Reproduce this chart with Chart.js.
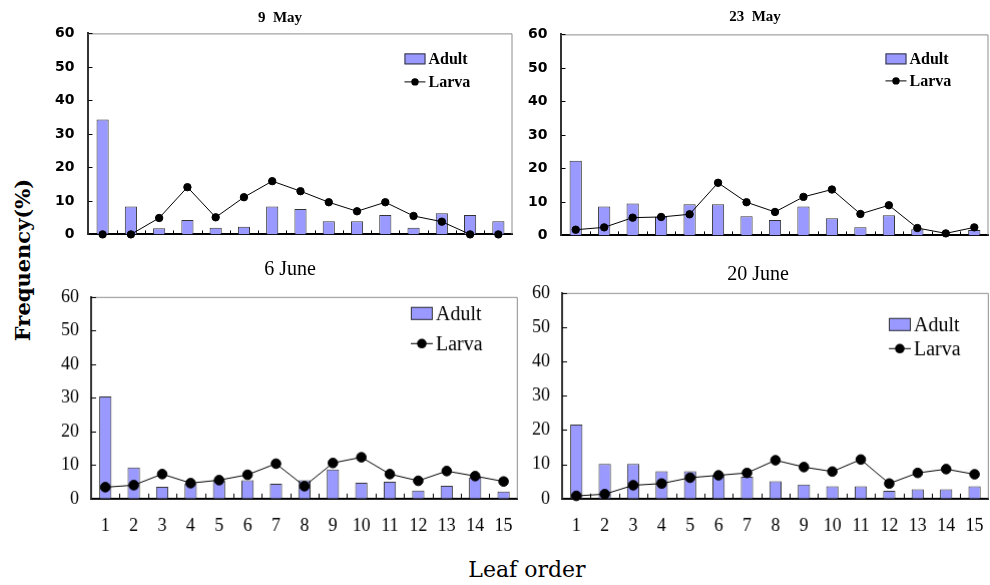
<!DOCTYPE html>
<html>
<head>
<meta charset="utf-8">
<script src="https://cdn.jsdelivr.net/npm/chart.js@4"></script>
<style>
  body { margin: 0; background: #fff; width: 990px; height: 585px; position: relative; overflow: hidden; }
  canvas { position: absolute; }
  .lbl { position: absolute; transform: translate(-50%, -50%); white-space: nowrap; color: #000; }
</style>
</head>
<body>
<canvas id="c1"></canvas>
<canvas id="c2"></canvas>
<canvas id="c3"></canvas>
<canvas id="c4"></canvas>

<div class="lbl" style="left:280px;top:17px;font:bold 15px 'Liberation Serif';">9&nbsp;&nbsp;May</div>
<div class="lbl" style="left:755px;top:16px;font:bold 15px 'Liberation Serif';">23&nbsp;&nbsp;May</div>
<div class="lbl" style="left:290px;top:268px;font:20px 'Liberation Serif';">6 June</div>
<div class="lbl" style="left:758px;top:273px;font:20px 'Liberation Serif';">20 June</div>
<div class="lbl" style="left:22px;top:260px;font:bold 21px 'DejaVu Serif';transform:translate(-50%,-50%) rotate(-90deg);">Frequency(%)</div>
<div class="lbl" style="left:527px;top:569px;font:22px 'DejaVu Serif';">Leaf order</div>

<script>
// --- data ---
const leafOrder = ["1","2","3","4","5","6","7","8","9","10","11","12","13","14","15"];

const adultMay9  = [34.3, 8.3, 1.8, 4.3, 2.0, 2.3, 8.3, 7.6, 3.9, 3.9, 5.8, 2.0, 6.3, 5.8, 3.9];
const larvaMay9  = [0, 0, 4.9, 14.1, 5.1, 11.1, 15.9, 12.9, 9.6, 6.9, 9.6, 5.5, 3.8, 0, 0];

const adultMay23 = [22.3, 8.6, 9.5, 5.6, 9.3, 9.3, 5.7, 4.6, 8.6, 5.1, 2.4, 6.0, 1.8, 0, 1.6];
const larvaMay23 = [1.7, 2.4, 5.3, 5.5, 6.3, 15.7, 9.9, 7.0, 11.5, 13.7, 6.4, 9.0, 2.2, 0.6, 2.4];

const adultJun6  = [30.4, 9.3, 3.5, 4.5, 5.5, 5.5, 4.4, 5.5, 8.7, 4.7, 5.0, 2.4, 3.8, 6.3, 2.1];
const larvaJun6  = [3.4, 4.0, 7.3, 4.6, 5.5, 7.1, 10.4, 3.7, 10.6, 12.3, 7.3, 5.3, 8.2, 6.7, 5.1];

const adultJun20 = [21.6, 10.1, 10.1, 8.0, 8.0, 6.9, 6.4, 5.1, 4.1, 3.6, 3.6, 2.3, 2.7, 2.7, 3.6];
const larvaJun20 = [0.8, 1.3, 3.9, 4.4, 6.1, 6.8, 7.5, 11.2, 9.2, 7.9, 11.4, 4.4, 7.5, 8.6, 7.1];

// frame, inner tick marks and the little legend
const framePlugin = {
  id: "frame",
  beforeDatasetsDraw(chart, args, o) {
    const { ctx, chartArea: a, scales: { x, y } } = chart;
    ctx.save();
    ctx.strokeStyle = "#8c8c8c";
    ctx.lineWidth = 1;
    ctx.beginPath();
    ctx.moveTo(a.left, a.top + 0.5);
    ctx.lineTo(a.right - 0.5, a.top + 0.5);
    ctx.lineTo(a.right - 0.5, a.bottom);
    ctx.stroke();

    ctx.strokeStyle = "#000";
    ctx.beginPath();
    y.ticks.forEach(t => {
      const py = Math.round(y.getPixelForValue(t.value)) + 0.5;
      ctx.moveTo(a.left, py);
      ctx.lineTo(a.left + o.tick, py);
    });
    for (let i = 0; i < leafOrder.length - 1; i++) {
      const px = Math.round((x.getPixelForValue(i) + x.getPixelForValue(i + 1)) / 2) + 0.5;
      ctx.moveTo(px, a.bottom);
      ctx.lineTo(px, a.bottom - o.tick);
    }
    ctx.stroke();
    ctx.restore();
  },
  afterDraw(chart, args, o) {
    const { ctx, chartArea: a } = chart;
    const bx = a.left + o.lx, by = a.top + o.ly;
    ctx.save();
    ctx.fillStyle = "#9999ff";
    ctx.strokeStyle = "#333";
    ctx.lineWidth = 1;
    ctx.fillRect(bx, by, o.boxW, o.boxH);
    ctx.strokeRect(bx + 0.5, by + 0.5, o.boxW - 1, o.boxH - 1);

    const ly = by + o.boxH / 2 + o.rowGap;
    ctx.strokeStyle = "#000";
    ctx.beginPath();
    ctx.moveTo(bx, ly);
    ctx.lineTo(bx + o.boxW, ly);
    ctx.stroke();
    ctx.fillStyle = "#000";
    ctx.beginPath();
    ctx.arc(bx + o.boxW / 2, ly, o.r, 0, Math.PI * 2);
    ctx.fill();

    ctx.font = o.font;
    ctx.textAlign = "left";
    ctx.textBaseline = "middle";
    ctx.fillText("Adult", bx + o.boxW + 3, by + o.boxH / 2 + 1);
    ctx.fillText("Larva", bx + o.boxW + 3, ly + 1);
    ctx.restore();
  }
};

function makePanel(id, area, adult, larva, p) {
  const cv = document.getElementById(id);
  cv.width = area.r - area.l + 60;
  cv.height = area.b - area.t + 60;

  const chart = new Chart(cv, {
    data: {
      labels: leafOrder,
      datasets: [
        {
          type: "line", label: "Larva", data: larva, order: 0,
          borderColor: "#000", borderWidth: 1,
          pointBackgroundColor: "#000", pointBorderColor: "#000",
          pointRadius: p.r, pointHoverRadius: p.r, tension: 0, clip: false
        },
        {
          type: "bar", label: "Adult", data: adult, order: 1,
          backgroundColor: "#9999ff", borderColor: "#333", borderWidth: 1,
          barPercentage: 0.43, categoryPercentage: 1
        }
      ]
    },
    options: {
      responsive: false,
      maintainAspectRatio: false,
      animation: false,
      layout: { padding: { top: 12, right: 2, left: 0, bottom: p.showX ? 0 : 12 } },
      plugins: {
        legend: { display: false },
        tooltip: { enabled: false },
        frame: p.legend
      },
      scales: {
        x: {
          offset: true,
          grid: { display: false, drawTicks: false },
          border: { display: true, color: "#000", width: 2 },
          ticks: { display: p.showX, color: "#000", padding: 17, maxRotation: 0, autoSkip: false, font: p.xFont }
        },
        y: {
          min: 0, max: 60,
          grid: { display: false, drawTicks: false },
          border: { display: true, color: "#333", width: 2 },
          ticks: { stepSize: 10, color: "#000", padding: p.yPad, font: p.yFont }
        }
      }
    },
    plugins: [framePlugin]
  });

  // line the plot area up with the reference frame
  const ca = chart.chartArea;
  const offL = ca.left, offT = ca.top;
  const offR = cv.width - ca.right, offB = cv.height - ca.bottom;
  chart.resize(offL + (area.r - area.l) + offR, offT + (area.b - area.t) + offB);
  const cb = chart.chartArea;
  cv.style.left = (area.l - cb.left) + "px";
  cv.style.top = (area.t - cb.top) + "px";
  return chart;
}

const topTick = { family: "DejaVu Sans", size: 14, weight: "bold" };
const lowTick = { family: "Liberation Serif", size: 18 };

makePanel("c1", { l: 88, t: 33, r: 512, b: 234 }, adultMay9, larvaMay9, {
  showX: false, r: 3.7, yPad: 14, yFont: topTick,
  legend: { tick: 4, lx: 316, ly: 20, boxW: 21, boxH: 11, rowGap: 23, r: 3.7, font: "bold 16px 'Liberation Serif'" }
});
makePanel("c2", { l: 561, t: 34, r: 988, b: 235 }, adultMay23, larvaMay23, {
  showX: false, r: 3.7, yPad: 14, yFont: topTick,
  legend: { tick: 4, lx: 324, ly: 19, boxW: 21, boxH: 11, rowGap: 22, r: 3.7, font: "bold 16px 'Liberation Serif'" }
});
makePanel("c3", { l: 91, t: 297, r: 517, b: 498 }, adultJun6, larvaJun6, {
  showX: true, r: 4.8, yPad: 12, yFont: lowTick, xFont: lowTick,
  legend: { tick: 5, lx: 319, ly: 10, boxW: 22, boxH: 13, rowGap: 30, r: 4.8, font: "20px 'Liberation Serif'" }
});
makePanel("c4", { l: 562, t: 293, r: 988, b: 498 }, adultJun20, larvaJun20, {
  showX: true, r: 4.8, yPad: 12, yFont: lowTick, xFont: lowTick,
  legend: { tick: 5, lx: 326, ly: 25, boxW: 22, boxH: 13, rowGap: 24, r: 4.8, font: "20px 'Liberation Serif'" }
});
</script>
</body>
</html>
